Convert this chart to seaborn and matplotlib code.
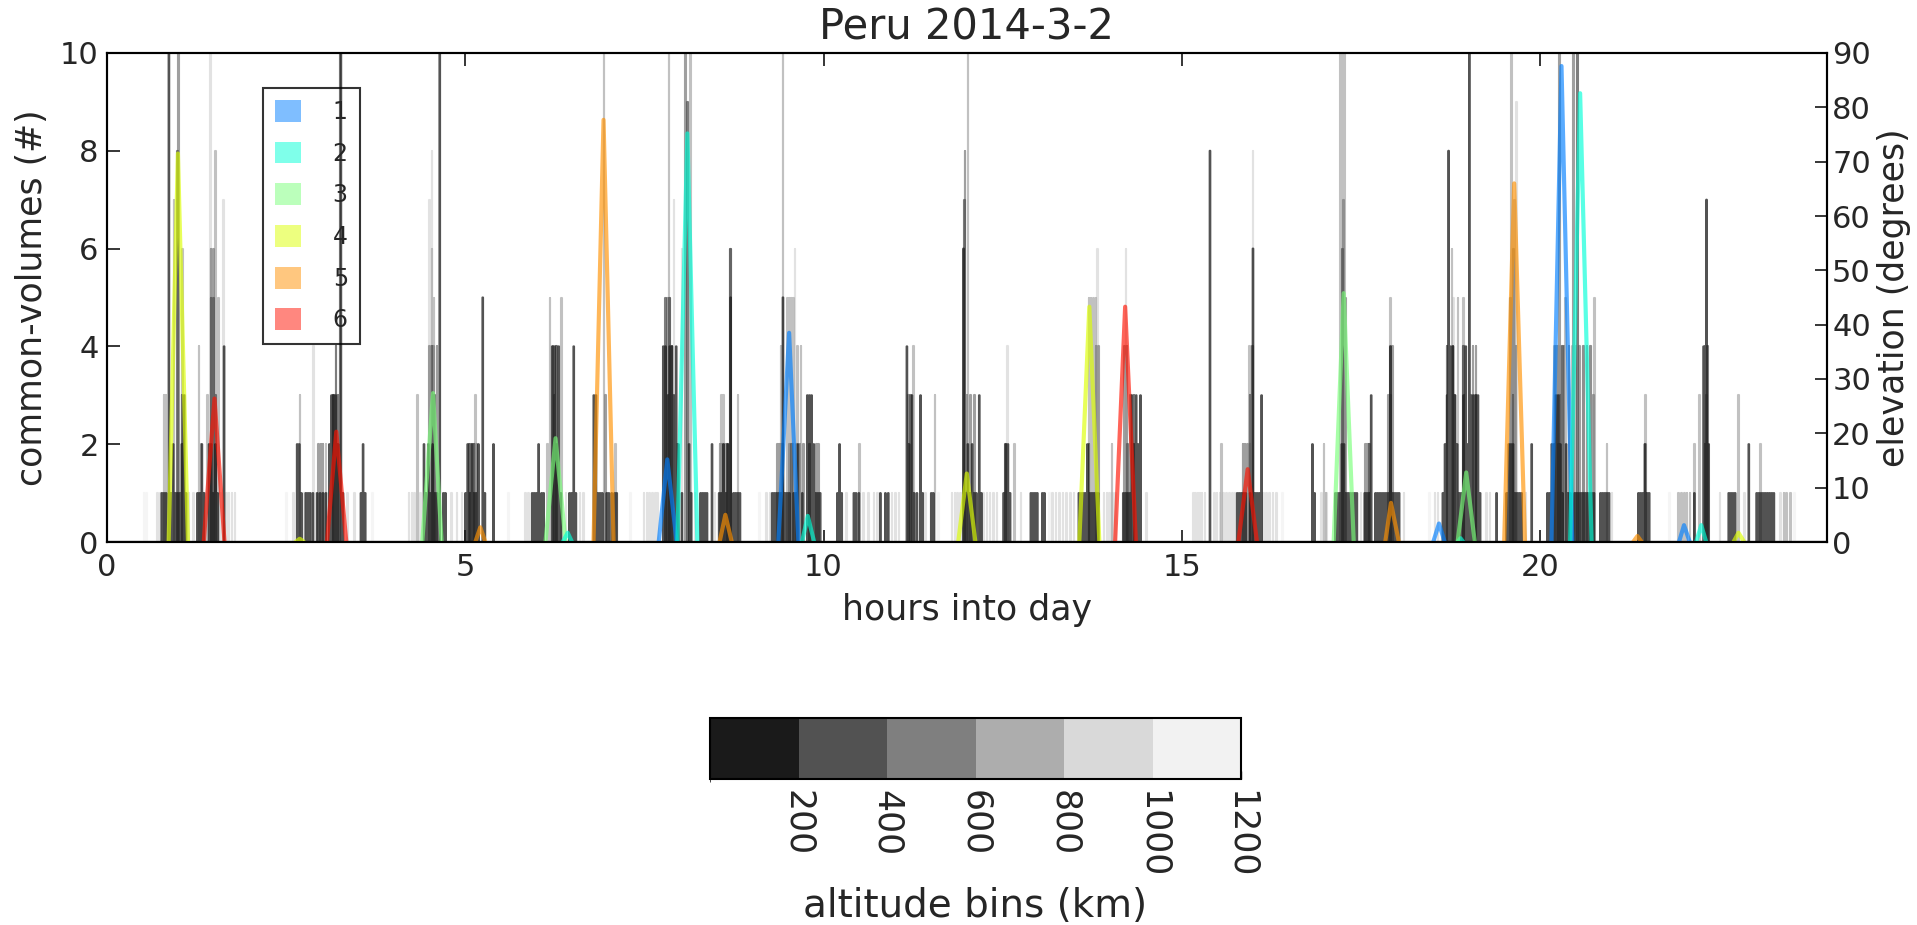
import matplotlib
matplotlib.use("Agg")
import matplotlib.pyplot as plt
import matplotlib as mpl
from matplotlib.colors import ListedColormap, BoundaryNorm
from matplotlib.patches import Patch
import pandas as pd
import seaborn as sns

# ---------------------------------------------------------------- data
title = "Peru 2014-3-2"
altitude_edges = [0, 200, 400, 600, 800, 1000, 1200]
altitude_ticks = [200, 400, 600, 800, 1000, 1200]
bin_grays = ["#1a1a1a", "#525252", "#7f7f7f", "#adadad", "#d9d9d9", "#f2f2f2"]
group_labels = ["1", "2", "3", "4", "5", "6"]
group_colors = ["#007fff", "#00ffd7", "#79ff79", "#ddff00", "#ff9100", "#ff1100"]

# common volumes per altitude bin: (hour of day, count) for each sample with volumes
bin1_counts = [
    (0.76, 1), (0.79, 1), (0.82, 1), (0.86, 11), (0.89, 1), (0.92, 2), (0.95, 1), (0.98, 1),
    (1.01, 1), (1.04, 2), (1.07, 3), (1.10, 1), (1.26, 1), (1.29, 1), (1.32, 2), (1.35, 1),
    (1.42, 2), (1.45, 2), (1.48, 1), (1.51, 2), (1.54, 1), (1.63, 4),
    (2.65, 2), (2.68, 2), (2.71, 1), (2.77, 1), (2.80, 1), (2.83, 1), (2.87, 1), (2.93, 1),
    (2.97, 1), (3.01, 1), (3.05, 1), (3.10, 2), (3.13, 3), (3.16, 3), (3.19, 3), (3.22, 2),
    (3.26, 11), (3.29, 1), (3.54, 1), (3.57, 2), (3.60, 1),
    (4.42, 2), (4.45, 1), (4.48, 2), (4.51, 1), (4.54, 2), (4.57, 1), (4.60, 1), (4.64, 11),
    (4.69, 1), (4.72, 1), (5.00, 1), (5.03, 2), (5.06, 1), (5.09, 2), (5.12, 1), (5.15, 1),
    (5.18, 2), (5.24, 5), (5.27, 1), (5.39, 2),
    (5.93, 1), (5.96, 1), (5.99, 1), (6.02, 2), (6.06, 1), (6.09, 1), (6.21, 4), (6.24, 4),
    (6.27, 2), (6.30, 4), (6.33, 1), (6.45, 1), (6.48, 1), (6.51, 4), (6.54, 1), (6.79, 3),
    (6.82, 3), (6.85, 1), (6.88, 1), (6.91, 1), (6.97, 1), (7.00, 1), (7.04, 1), (7.08, 1),
    (7.11, 1),
    (7.76, 4), (7.79, 4), (7.82, 3), (7.85, 4), (7.88, 4), (7.91, 3), (7.94, 4), (7.97, 2),
    (8.02, 1), (8.12, 2), (8.15, 1), (8.28, 1), (8.31, 1), (8.34, 1), (8.37, 1), (8.44, 2),
    (8.54, 1), (8.57, 1), (8.60, 2), (8.63, 1), (8.66, 2), (8.70, 5), (8.74, 1), (8.77, 1),
    (8.80, 1), (8.83, 1),
    (9.28, 1), (9.31, 1), (9.34, 1), (9.37, 1), (9.40, 1), (9.43, 5), (9.46, 1), (9.49, 1),
    (9.52, 1), (9.58, 1), (9.61, 1), (9.64, 2), (9.70, 1), (9.77, 3), (9.80, 3), (9.83, 3),
    (9.86, 2), (9.89, 1), (9.92, 1), (9.95, 1),
    (10.19, 1), (10.22, 2), (10.25, 1), (10.42, 1), (10.45, 1), (10.49, 1), (10.79, 1),
    (10.86, 1), (10.90, 1), (11.16, 4), (11.19, 2), (11.23, 3), (11.26, 1), (11.30, 1),
    (11.35, 3), (11.38, 1), (11.50, 1), (11.53, 1),
    (11.95, 6), (11.98, 1), (12.01, 2), (12.04, 1), (12.07, 2), (12.10, 1), (12.13, 1),
    (12.17, 3), (12.20, 1),
    (12.51, 1), (12.54, 2), (12.57, 2), (12.60, 1), (12.89, 1), (12.92, 1), (12.95, 1),
    (12.98, 1), (13.05, 1), (13.08, 1),
    (13.56, 1), (13.59, 1), (13.62, 1), (13.65, 1), (13.68, 2), (13.71, 1), (13.74, 1),
    (13.77, 1), (13.80, 1), (13.83, 1), (14.18, 1), (14.21, 1), (14.24, 1), (14.27, 1),
    (14.30, 3), (14.33, 2), (14.36, 3), (14.39, 2), (14.42, 3),
    (15.39, 8), (15.77, 1), (15.80, 1), (15.83, 1), (15.86, 1), (15.89, 1), (15.95, 1),
    (15.99, 6), (16.02, 1), (16.05, 1), (16.08, 1), (16.11, 3),
    (16.82, 2), (16.85, 1), (17.14, 1), (17.17, 1), (17.20, 1), (17.23, 2), (17.26, 2),
    (17.29, 1), (17.32, 1), (17.35, 1), (17.38, 1), (17.41, 1), (17.44, 1), (17.55, 1),
    (17.58, 1), (17.61, 1), (17.64, 3), (17.70, 1), (17.73, 1), (17.76, 1), (17.79, 1),
    (17.82, 1), (17.85, 1), (17.88, 1), (17.91, 4), (17.94, 1), (17.97, 1), (18.00, 1),
    (18.03, 1),
    (18.64, 1), (18.67, 2), (18.70, 3), (18.72, 8), (18.75, 4), (18.78, 4), (18.81, 3),
    (18.84, 2), (18.87, 1), (18.90, 1), (18.93, 3), (18.96, 4), (18.99, 2), (19.01, 11),
    (19.04, 3), (19.07, 3), (19.10, 3), (19.13, 3), (19.16, 1),
    (19.39, 1), (19.53, 1), (19.56, 2), (19.59, 2), (19.62, 2), (19.65, 1), (19.68, 1),
    (19.71, 1), (19.74, 1), (19.88, 2),
    (20.10, 1), (20.13, 1), (20.16, 2), (20.19, 2), (20.22, 3), (20.25, 3), (20.28, 2),
    (20.31, 1), (20.36, 2), (20.39, 1), (20.42, 1), (20.48, 1), (20.51, 1), (20.54, 1),
    (20.57, 1), (20.60, 1), (20.63, 1), (20.66, 1), (20.69, 1), (20.72, 1), (20.75, 1),
    (20.84, 1), (20.87, 1), (20.90, 1), (20.93, 1), (20.96, 1),
    (21.37, 1), (21.40, 1), (21.43, 1), (21.46, 2), (21.49, 1), (21.52, 1), (22.15, 1),
    (22.28, 4), (22.30, 4), (22.32, 7), (22.35, 2), (22.63, 1), (22.66, 1), (22.69, 1),
    (22.72, 1), (22.91, 2), (23.02, 1), (23.05, 1), (23.08, 1), (23.11, 1), (23.14, 1),
    (23.17, 1), (23.20, 1), (23.23, 1), (23.26, 1),
]
bin2_counts = [
    (0.98, 8), (1.04, 3), (1.45, 5), (1.48, 5), (1.51, 3), (3.16, 3), (3.19, 4), (3.22, 3),
    (4.53, 4), (4.57, 3), (5.06, 2), (5.12, 2), (6.24, 3), (6.27, 4), (7.79, 5), (7.85, 5),
    (7.88, 4), (8.10, 9), (8.66, 2), (8.70, 6), (9.43, 2), (9.55, 2), (9.80, 2), (11.21, 3),
    (11.96, 7), (12.54, 2), (13.70, 2), (14.24, 2), (14.33, 3), (15.95, 3), (15.98, 4),
    (17.24, 6), (17.61, 2), (17.91, 3), (18.70, 4), (18.78, 4), (18.93, 4), (19.10, 3),
    (19.62, 3), (20.25, 2), (20.28, 3), (20.31, 4), (20.52, 11), (22.30, 2), (22.33, 4),
]
bin3_counts = [
    (0.99, 11), (1.45, 6), (1.48, 6), (2.95, 2), (2.98, 2), (3.01, 2), (3.15, 3), (3.25, 11),
    (4.50, 4), (4.55, 4), (4.60, 4), (5.05, 2), (5.09, 2), (5.12, 2), (5.15, 2), (6.22, 4),
    (6.26, 4), (6.95, 3), (7.82, 5), (7.85, 5), (8.07, 11), (8.55, 2), (8.58, 2), (8.61, 2),
    (8.64, 2), (8.70, 6), (9.35, 2), (9.38, 2), (9.41, 2), (9.52, 2), (9.57, 2), (9.62, 2),
    (9.67, 2), (9.72, 2), (9.90, 2), (9.93, 2), (11.18, 3), (11.97, 8), (12.00, 3),
    (12.05, 3), (12.10, 3), (13.80, 4), (13.83, 4), (14.20, 4), (14.23, 4), (14.28, 3),
    (15.85, 2), (15.88, 2), (15.91, 2), (15.95, 2), (17.25, 7), (17.28, 5), (17.56, 2),
    (17.59, 2), (17.62, 2), (17.88, 3), (17.91, 4), (17.94, 4), (18.80, 3), (18.93, 4),
    (19.06, 4), (19.10, 4), (19.58, 5), (19.63, 6), (19.66, 4), (20.21, 4), (20.24, 4),
    (20.27, 11), (20.33, 4), (20.40, 4), (20.46, 11), (20.55, 4), (20.60, 4), (20.65, 4),
    (20.70, 4), (20.74, 3), (21.47, 2), (22.32, 3),
]
bin4_counts = [
    (0.79, 3), (0.82, 3), (0.93, 7), (1.05, 6), (1.08, 3), (1.28, 4), (1.31, 2), (1.40, 3),
    (1.51, 8), (1.55, 5), (2.69, 3), (3.05, 2), (4.33, 3), (4.53, 6), (4.56, 5), (5.05, 2),
    (5.14, 3), (6.14, 2), (6.18, 5), (6.34, 5), (6.93, 11), (7.09, 2), (7.84, 11), (7.95, 2),
    (8.14, 11), (8.57, 3), (8.60, 3), (8.80, 3), (9.40, 4), (9.43, 11), (9.49, 5), (9.52, 5),
    (9.55, 5), (9.58, 5), (9.63, 4), (9.68, 4), (10.50, 2), (11.25, 4), (11.55, 3),
    (12.01, 11), (12.66, 2), (13.70, 5), (13.73, 5), (13.76, 5), (13.80, 5), (14.02, 2),
    (15.55, 2), (15.94, 4), (16.98, 2), (17.01, 1), (17.21, 11), (17.24, 11), (17.27, 11),
    (17.91, 5), (18.77, 6), (18.85, 5), (18.93, 5), (19.60, 11), (19.64, 7), (20.20, 4),
    (20.25, 4), (20.30, 4), (20.35, 5), (20.45, 4), (20.50, 4), (20.60, 4), (20.70, 4),
    (20.76, 5), (20.93, 2), (21.47, 3), (21.93, 1), (21.97, 1), (22.01, 1), (22.05, 1),
    (22.09, 1), (22.15, 2), (22.22, 3), (22.77, 3), (23.07, 2), (23.40, 1), (23.44, 1),
    (23.49, 1),
]
bin5_counts = [
    (0.70, 1), (0.74, 1), (1.14, 1), (1.20, 1), (1.26, 1), (1.30, 1), (1.34, 1), (1.38, 1),
    (1.44, 11), (1.58, 1), (1.62, 7), (1.66, 1), (1.70, 1), (1.74, 1), (1.78, 1), (2.60, 1),
    (2.75, 1), (2.85, 1), (2.88, 4), (2.92, 1), (3.00, 1), (3.08, 1), (3.35, 1), (3.45, 1),
    (4.21, 1), (4.25, 1), (4.29, 1), (4.37, 1), (4.50, 7), (4.53, 8), (4.80, 1), (4.88, 1),
    (4.95, 1), (5.84, 1), (5.88, 1), (6.40, 1), (6.60, 1), (6.65, 1), (7.49, 1), (7.53, 1),
    (7.57, 1), (7.61, 1), (7.65, 1), (7.68, 1), (7.91, 7), (8.02, 6), (8.20, 1), (8.48, 1),
    (9.20, 1), (9.25, 1), (9.60, 6), (10.32, 1), (10.55, 1), (10.62, 1), (10.70, 1),
    (10.75, 1), (10.95, 1), (11.00, 1), (11.05, 1), (11.42, 1), (11.79, 1), (11.83, 1),
    (11.87, 1), (11.91, 1), (12.19, 1), (12.23, 1), (12.28, 1), (12.32, 1), (12.37, 1),
    (12.42, 1), (12.56, 4), (12.75, 1), (13.19, 1), (13.24, 1), (13.29, 1), (13.34, 1),
    (13.39, 1), (13.44, 1), (13.49, 1), (13.82, 6), (13.91, 1), (13.95, 1), (13.99, 1),
    (14.03, 1), (14.07, 1), (14.22, 6), (14.50, 1), (15.16, 1), (15.19, 1), (15.22, 1),
    (15.25, 1), (15.28, 1), (15.32, 1), (15.45, 1), (15.49, 1), (15.53, 1), (15.58, 1),
    (15.62, 1), (15.66, 1), (15.70, 1), (15.74, 1), (15.99, 8), (16.14, 1), (16.18, 1),
    (16.22, 1), (16.27, 1), (16.32, 1), (16.95, 1), (17.02, 1), (17.50, 1), (18.10, 1),
    (18.53, 1), (18.57, 1), (18.79, 5), (19.25, 1), (19.30, 1), (19.67, 9), (19.80, 1),
    (21.00, 1), (22.51, 1), (22.85, 1), (23.35, 1),
]
bin6_counts = [
    (0.51, 1), (0.55, 1), (2.50, 1), (3.70, 1), (5.60, 1), (7.30, 1), (9.10, 1), (11.60, 1),
    (13.15, 1), (16.40, 1), (18.45, 1), (21.80, 1), (23.55, 1),
]
altitude_bins = [bin1_counts, bin2_counts, bin3_counts, bin4_counts, bin5_counts, bin6_counts]

# satellite passes: group, rise / culmination / set (hours), peak elevation (degrees)
pass_group = [4, 6, 4, 6, 3, 5, 3, 2, 5, 1, 2, 5, 1, 2, 4, 4, 6, 6, 3, 5, 1, 2, 3, 5, 1, 2,
              5, 1, 2, 4]
pass_rise = [0.86, 1.35, 2.63, 3.07, 4.40, 5.14, 6.12, 6.36, 6.79, 7.70, 7.96, 8.55, 9.37,
             9.70, 11.88, 13.57, 14.07, 15.79, 17.12, 17.84, 18.51, 18.85, 18.85, 19.50,
             20.16, 20.42, 21.30, 21.94, 22.18, 22.70]
pass_peak = [0.99, 1.50, 2.69, 3.20, 4.55, 5.21, 6.26, 6.43, 6.93, 7.82, 8.10, 8.63, 9.52,
             9.78, 12.00, 13.71, 14.21, 15.92, 17.26, 17.92, 18.59, 18.89, 18.97, 19.64,
             20.30, 20.56, 21.36, 22.01, 22.25, 22.77]
pass_set = [1.13, 1.64, 2.75, 3.34, 4.67, 5.28, 6.40, 6.49, 7.07, 7.95, 8.24, 8.72, 9.65,
            9.87, 12.12, 13.85, 14.36, 16.05, 17.40, 18.03, 18.67, 18.93, 19.09, 19.79,
            20.45, 20.72, 21.42, 22.09, 22.32, 22.85]
pass_elev = [71.5, 26.4, 0.6, 20.3, 27.4, 2.7, 19.1, 1.7, 77.7, 15.2, 75.2, 5.0, 38.5, 4.8,
             12.6, 43.3, 43.3, 13.4, 45.8, 7.2, 3.4, 0.7, 12.8, 66.0, 87.6, 82.6, 1.1, 3.1,
             3.1, 1.7]

SAMPLE_HOURS = 1.0 / 120.0  # duration of one count sample


def step_frame(samples):
    """Turn (hour, count) samples into a 0-based step series spanning the day."""
    hours, counts = [0.0], [0]
    for t, n in sorted(samples):
        hours += [t, t + SAMPLE_HOURS]
        counts += [n, 0]
    hours.append(24.0)
    counts.append(0)
    return pd.DataFrame({"hour": hours, "count": counts})


# ---------------------------------------------------------------- style
sns.set_style("ticks")
plt.rcParams["font.family"] = ["DejaVu Sans"]
plt.rcParams["axes.linewidth"] = 1.5
plt.rcParams["axes.edgecolor"] = "black"

W, H = 1917, 925
fig = plt.figure(figsize=(W / 100, H / 100), dpi=100)
ax = fig.add_axes([107 / W, 1 - 542 / H, (1826.6 - 107) / W, (542 - 53) / H])

# altitude-bin counts, light bins underneath, dark bins on top
for k in range(5, -1, -1):
    sns.lineplot(data=step_frame(altitude_bins[k]), x="hour", y="count",
                 drawstyle="steps-post", estimator=None, sort=False,
                 color=bin_grays[k], alpha=0.75, linewidth=1.5, ax=ax)

ax.set_xlim(0, 24)
ax.set_ylim(0, 10)
ax.set_xticks([0, 5, 10, 15, 20])
ax.set_yticks([0, 2, 4, 6, 8, 10])
ax.set_xlabel("hours into day", fontsize=25, labelpad=8)
ax.set_ylabel("common-volumes (#)", fontsize=25, labelpad=8)
ax.set_title(title, fontsize=30, pad=10)
ax.tick_params(axis="x", direction="in", length=9, width=1.3, labelsize=22, top=True, pad=8)
ax.tick_params(axis="y", direction="in", length=9, width=1.3, labelsize=22, pad=6)

# elevation of each pass on the right axis
ax2 = ax.twinx()
for g, r, p, s, e in zip(pass_group, pass_rise, pass_peak, pass_set, pass_elev):
    df = pd.DataFrame({"hour": [r, p, s], "elevation": [0.0, e, 0.0]})
    sns.lineplot(data=df, x="hour", y="elevation", estimator=None, sort=False,
                 color=group_colors[g - 1], alpha=0.65, linewidth=3.0, ax=ax2)
ax2.set_ylim(0, 90)
ax2.set_xlim(0, 24)
ax2.set_yticks(range(0, 91, 10))
ax2.set_ylabel("elevation (degrees)", fontsize=25, labelpad=4)
ax2.tick_params(axis="y", direction="in", length=9, width=1.3, labelsize=22, pad=4)
for sp in ax2.spines.values():
    sp.set_linewidth(1.5)

handles = [Patch(facecolor=c, alpha=0.5, edgecolor="none") for c in group_colors]
leg = ax2.legend(handles, group_labels, loc="upper left",
                 bbox_to_anchor=(263 / W, 1 - 88 / H), bbox_transform=fig.transFigure,
                 fancybox=False, frameon=True, facecolor="none", edgecolor="black",
                 framealpha=None, fontsize=17, handlelength=1.1, handleheight=1.05,
                 handletextpad=1.35, labelspacing=0.75, borderpad=0.5, borderaxespad=0)
leg.get_frame().set_linewidth(1.5)

# altitude bin colour key
cax = fig.add_axes([710 / W, 1 - 779 / H, 531 / W, 61 / H])
cmap = ListedColormap(bin_grays)
norm = BoundaryNorm(altitude_edges, cmap.N)
cb = fig.colorbar(mpl.cm.ScalarMappable(norm=norm, cmap=cmap), cax=cax,
                  orientation="horizontal", ticks=altitude_ticks)
cb.outline.set_linewidth(1.5)
cb.ax.tick_params(direction="in", length=6, width=1.0, labelsize=25, pad=8)
for lbl in cb.ax.get_xticklabels():
    lbl.set_rotation(-90)
cb.set_label("altitude bins (km)", fontsize=28, labelpad=6)

fig.savefig("out.png", dpi=100)
